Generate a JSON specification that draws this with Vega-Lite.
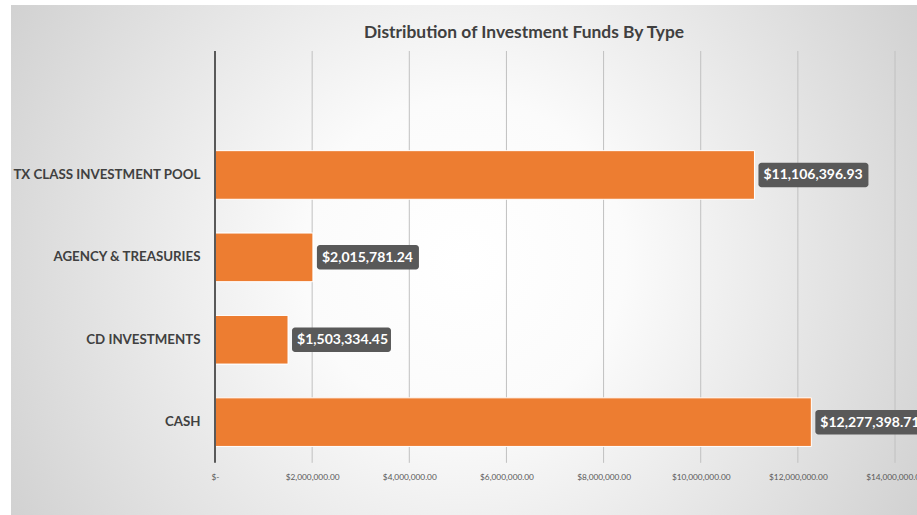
{
  "$schema": "https://vega.github.io/schema/vega-lite/v6.json",
  "autosize": {"type": "none"},
  "width": 906,
  "height": 510,
  "padding": {"left": 11, "top": 5, "right": 0, "bottom": 0},
  "background": "#ffffff",
  "config": {
    "view": {
      "stroke": null,
      "fill": {
        "gradient": "radial",
        "x1": 0.5, "y1": 0.5, "r1": 0,
        "x2": 0.5, "y2": 0.5, "r2": 0.71,
        "stops": [
          {"offset": 0, "color": "#ffffff"},
          {"offset": 0.25, "color": "#fbfbfb"},
          {"offset": 1, "color": "#c3c3c3"}
        ]
      }
    }
  },
  "title": {
    "text": "Distribution of Investment Funds By Type",
    "font": "Lato",
    "fontSize": 17.4,
    "fontWeight": "bold",
    "color": "#404040",
    "anchor": "middle",
    "dx": 60,
    "baseline": "middle",
    "offset": -45
  },
  "datasets": {
    "funds": [
      {"type": "TX CLASS INVESTMENT POOL", "amount": 11106396.93},
      {"type": "AGENCY & TREASURIES", "amount": 2015781.24},
      {"type": "CD INVESTMENTS", "amount": 1503334.45},
      {"type": "CASH", "amount": 12277398.71}
    ],
    "ticks": [
      {"v": 0}, {"v": 2000000}, {"v": 4000000}, {"v": 6000000},
      {"v": 8000000}, {"v": 10000000}, {"v": 12000000}, {"v": 14000000}
    ]
  },
  "layer": [
    {
      "data": {"name": "funds"},
      "mark": {"type": "bar", "color": "#ED7D31", "stroke": "#ffffff", "strokeWidth": 1},
      "encoding": {
        "y": {
          "field": "type", "type": "nominal",
          "scale": {
            "domain": [" ", "TX CLASS INVESTMENT POOL", "AGENCY & TREASURIES", "CD INVESTMENTS", "CASH"],
            "paddingInner": 0.41, "paddingOuter": 0.8, "align": 0.48
          },
          "axis": {
            "title": null,
            "values": ["TX CLASS INVESTMENT POOL", "AGENCY & TREASURIES", "CD INVESTMENTS", "CASH"],
            "orient": "left", "offset": -204, "domain": false, "ticks": false, "grid": false,
            "labelPadding": 15, "labelFont": "Lato", "labelFontSize": 13.3, "labelFontWeight": "bold",
            "labelColor": "#404040", "labelLimit": 400
          }
        },
        "x": {
          "field": "amount", "type": "quantitative",
          "scale": {"domain": [-4200000, 14452941], "nice": false, "zero": false},
          "axis": {
            "title": null,
            "values": [0, 2000000, 4000000, 6000000, 8000000, 10000000, 12000000, 14000000],
            "labelExpr": "datum.value == 0 ? '$-' : format(datum.value, '$,.2f')",
            "orient": "bottom", "offset": -48, "domain": false, "ticks": false, "grid": false,
            "labelPadding": 5, "labelFont": "Lato", "labelFontSize": 8.3, "labelColor": "#595959",
            "labelOverlap": false, "labelBound": false, "labelFlush": false
          }
        }
      }
    },
    {
      "data": {"name": "ticks"},
      "transform": [{"filter": "datum.v > 0"}],
      "mark": {"type": "rule", "color": "#c0c0c0", "strokeWidth": 1},
      "encoding": {
        "x": {"field": "v", "type": "quantitative"},
        "y": {"datum": " ", "type": "nominal", "bandPosition": -0.356},
        "y2": {"datum": "CASH", "bandPosition": 1.337}
      }
    },
    {
      "data": {"name": "funds"},
      "mark": {"type": "bar", "color": "#ED7D31", "stroke": "#ffffff", "strokeWidth": 1},
      "encoding": {
        "y": {"field": "type", "type": "nominal"},
        "x": {"field": "amount", "type": "quantitative"}
      }
    },
    {
      "data": {"name": "ticks"},
      "transform": [{"filter": "datum.v == 0"}],
      "mark": {"type": "rule", "color": "#595959", "strokeWidth": 2},
      "encoding": {
        "x": {"field": "v", "type": "quantitative"},
        "y": {"datum": " ", "type": "nominal", "bandPosition": -0.356},
        "y2": {"datum": "CASH", "bandPosition": 1.337}
      }
    },
    {
      "data": {"name": "funds"},
      "mark": {"type": "point", "filled": true, "color": "#595959", "opacity": 1, "size": 600, "strokeWidth": 0},
      "encoding": {
        "x": {"field": "amount", "type": "quantitative"},
        "y": {"field": "type", "type": "nominal"},
        "shape": {
          "field": "type", "type": "nominal", "legend": null,
          "scale": {
            "domain": ["TX CLASS INVESTMENT POOL", "AGENCY & TREASURIES", "CD INVESTMENTS", "CASH"],
            "range": [
              "M0.572,-1H9.062A0.245,0.245 0 0 1 9.307,-0.755V0.755A0.245,0.245 0 0 1 9.062,1H0.572A0.245,0.245 0 0 1 0.327,0.755V-0.755A0.245,0.245 0 0 1 0.572,-1Z",
              "M0.572,-1H8.412A0.245,0.245 0 0 1 8.657,-0.755V0.755A0.245,0.245 0 0 1 8.412,1H0.572A0.245,0.245 0 0 1 0.327,0.755V-0.755A0.245,0.245 0 0 1 0.572,-1Z",
              "M0.572,-1H8.162A0.245,0.245 0 0 1 8.407,-0.755V0.755A0.245,0.245 0 0 1 8.162,1H0.572A0.245,0.245 0 0 1 0.327,0.755V-0.755A0.245,0.245 0 0 1 0.572,-1Z",
              "M0.572,-1H9.062A0.245,0.245 0 0 1 9.307,-0.755V0.755A0.245,0.245 0 0 1 9.062,1H0.572A0.245,0.245 0 0 1 0.327,0.755V-0.755A0.245,0.245 0 0 1 0.572,-1Z"
            ]
          }
        }
      }
    },
    {
      "data": {"name": "funds"},
      "mark": {"type": "text", "align": "left", "baseline": "middle", "dx": 9, "dy": 0.5,
               "font": "Lato", "fontSize": 14, "fontWeight": "bold", "color": "#ffffff"},
      "encoding": {
        "x": {"field": "amount", "type": "quantitative"},
        "y": {"field": "type", "type": "nominal"},
        "text": {"field": "amount", "type": "quantitative", "format": "$,.2f"}
      }
    }
  ]
}
